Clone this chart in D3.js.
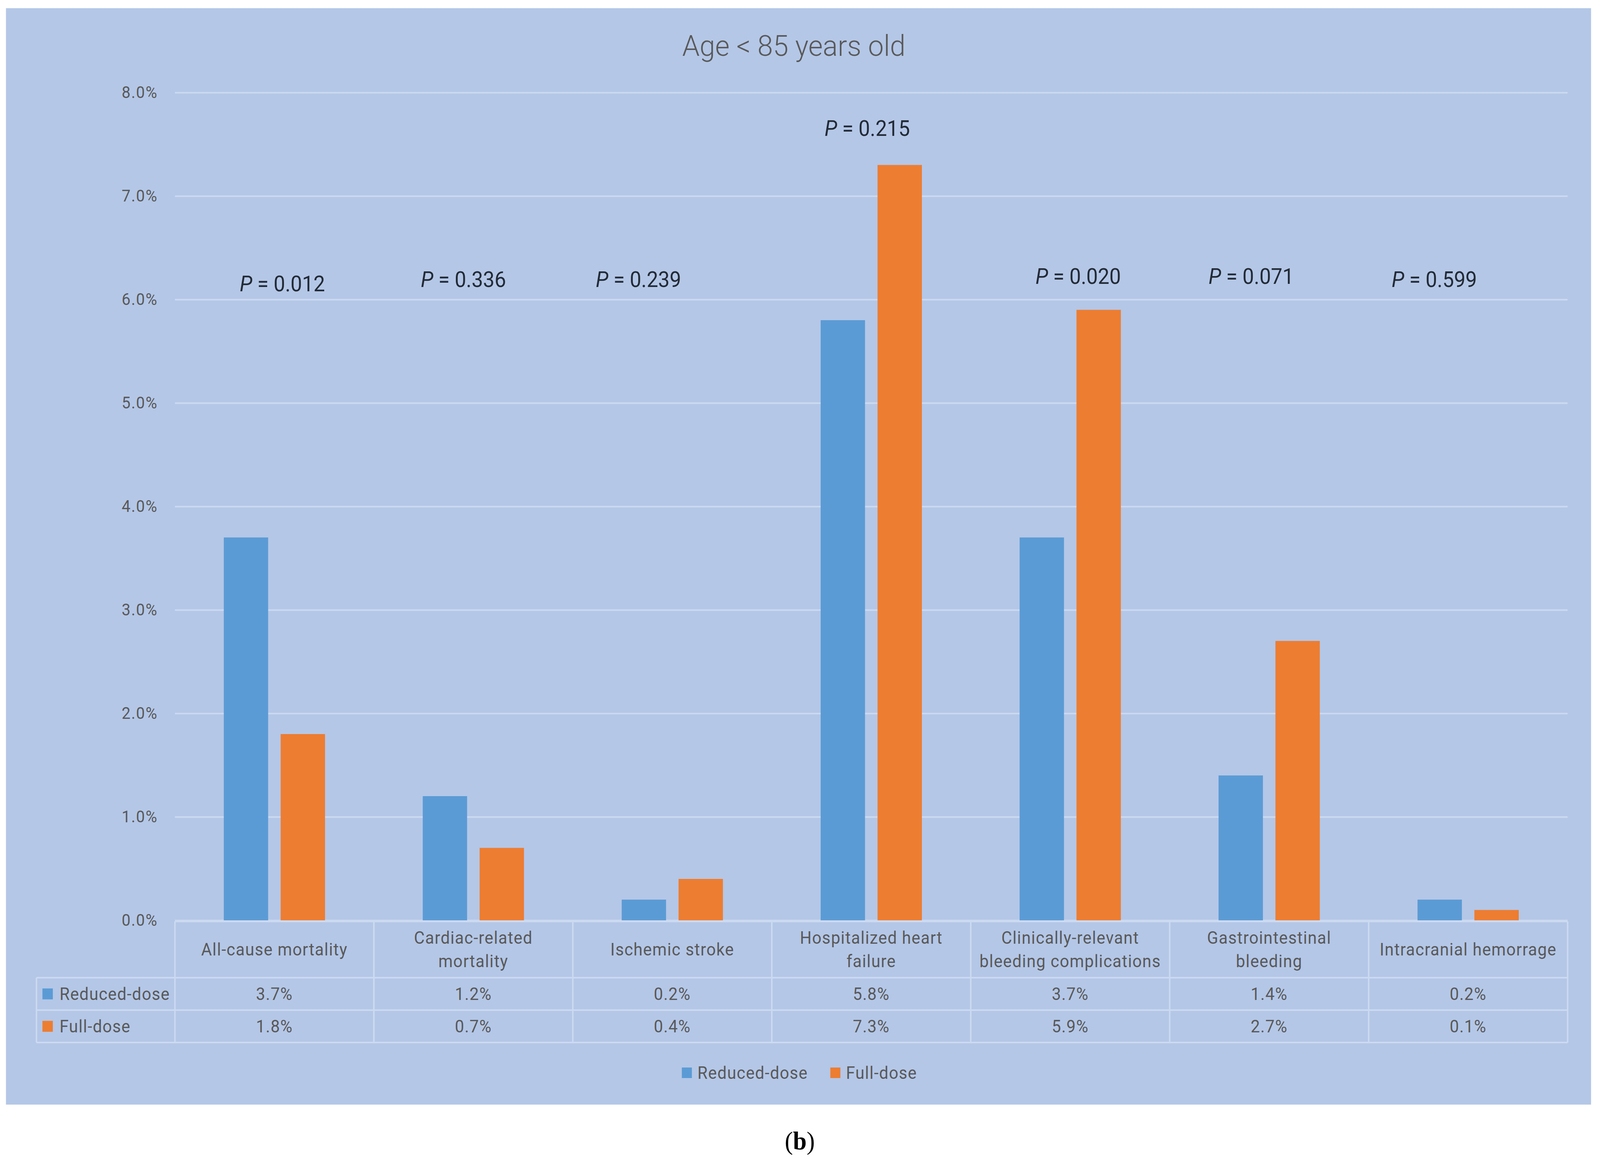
<!DOCTYPE html>
<html>
<head>
<meta charset="utf-8">
<script src="https://cdn.jsdelivr.net/npm/d3@7"></script>
<style>
  html, body { margin: 0; padding: 0; background: #fff; overflow: hidden; }
  #chart svg { display: block; width: 100vw; height: 100vh; }
  svg text { font-family: "Liberation Sans Narrow", "Roboto", sans-serif; }
</style>
</head>
<body>
<div id="chart"></div>
<script>
// data ------------------------------------------------------------
const categories = [
  'All-cause mortality',
  'Cardiac-related mortality',
  'Ischemic stroke',
  'Hospitalized heart failure',
  'Clinically-relevant bleeding complications',
  'Gastrointestinal bleeding',
  'Intracranial hemorrage'
];
// how the category names wrap in the table header
const categoryLines = [
  ['All-cause mortality'],
  ['Cardiac-related', 'mortality'],
  ['Ischemic stroke'],
  ['Hospitalized heart', 'failure'],
  ['Clinically-relevant', 'bleeding complications'],
  ['Gastrointestinal', 'bleeding'],
  ['Intracranial hemorrage']
];
const seriesNames = ['Reduced-dose', 'Full-dose'];
const reducedDose = [3.7, 1.2, 0.2, 5.8, 3.7, 1.4, 0.2];
const fullDose = [1.8, 0.7, 0.4, 7.3, 5.9, 2.7, 0.1];
const pValues = ['0.012', '0.336', '0.239', '0.215', '0.020', '0.071', '0.599'];
// where each P label sits: [shift from band centre as share of band, height in %]
const pAnchor = [[0.04, 6.08], [-0.05, 6.12], [-0.17, 6.12], [-0.02, 7.58], [0.04, 6.15], [-0.09, 6.15], [-0.17, 6.12]];
const yTicks = [0, 1, 2, 3, 4, 5, 6, 7, 8];
const title = 'Age < 85 years old';

// layout ----------------------------------------------------------
const width = 4299;
const height = 2976;
const colors = { 'Reduced-dose': '#5B9BD5', 'Full-dose': '#ED7D31' };
const panelBg = '#B4C7E7';
const lineColor = '#CCDAF1';
const textGray = '#595959';

const plot = { left: 470, right: 4212, top: 237, bottom: 2357 };
const table = { left: 98, header: 144, row: 83 };

const svg = d3.select('#chart')
  .append('svg')
  .attr('viewBox', `0 0 ${width} ${height}`)
  .attr('preserveAspectRatio', 'none');

svg.append('rect').attr('width', width).attr('height', height).attr('fill', '#fff');
svg.append('rect')
  .attr('x', 16).attr('y', 21)
  .attr('width', 4275 - 16).attr('height', 2829 - 21)
  .attr('fill', panelBg);

const xScale = d3.scaleBand().domain(categories).range([plot.left, plot.right]).padding(0);
const yScale = d3.scaleLinear().domain([0, 8]).range([plot.bottom, plot.top]);
const bw = xScale.bandwidth();
const xInner = d3.scaleBand().domain(seriesNames)
  .range([bw / 2 - 136, bw / 2 + 136])
  .paddingInner(0.22).paddingOuter(0);

// gridlines + y labels
const yAxis = d3.axisLeft(yScale)
  .tickValues(yTicks)
  .tickFormat(d => d.toFixed(1) + '%')
  .tickSize(-(plot.right - plot.left))
  .tickPadding(46);

const yG = svg.append('g')
  .attr('transform', `translate(${plot.left},0)`)
  .call(yAxis);
yG.select('.domain').remove();
yG.selectAll('.tick line').attr('stroke', lineColor).attr('stroke-width', 4);
yG.selectAll('.tick text')
  .attr('fill', textGray)
  .style('font-size', '42px')
  .style('letter-spacing', '2px');

// bars
const rows = categories.map((c, i) => ({ cat: c, values: [
  { key: 'Reduced-dose', value: reducedDose[i] },
  { key: 'Full-dose', value: fullDose[i] }
] }));

const groups = svg.append('g').selectAll('g')
  .data(rows)
  .join('g')
  .attr('transform', d => `translate(${xScale(d.cat)},0)`);

groups.selectAll('rect')
  .data(d => d.values)
  .join('rect')
  .attr('x', d => xInner(d.key))
  .attr('width', xInner.bandwidth())
  .attr('y', d => yScale(d.value))
  .attr('height', d => yScale(0) - yScale(d.value))
  .attr('fill', d => colors[d.key]);

// P value labels
const pText = svg.append('g').selectAll('text')
  .data(categories)
  .join('text')
  .attr('x', (d, i) => xScale(d) + bw / 2 + pAnchor[i][0] * bw)
  .attr('y', (d, i) => yScale(pAnchor[i][1]))
  .attr('text-anchor', 'middle')
  .attr('fill', '#222a35')
  .style('font-size', '55px');
pText.append('tspan').style('font-style', 'italic').text('P');
pText.append('tspan').text((d, i) => ' = ' + pValues[i]);

// title
svg.append('text')
  .attr('x', 2133).attr('y', 143)
  .attr('text-anchor', 'middle')
  .attr('fill', textGray)
  .style('font-size', '75px')
  .style('font-weight', 300)
  .text(title);

// data table ------------------------------------------------------
const tTop = yScale(0) + 3;
const tHead = tTop + table.header;
const tRow1 = tHead + table.row;
const tRow2 = tRow1 + table.row;
const tbl = svg.append('g').attr('stroke', lineColor).attr('stroke-width', 4);

tbl.append('line').attr('x1', plot.left).attr('x2', plot.right).attr('y1', tTop).attr('y2', tTop);
[tHead, tRow1, tRow2].forEach(y => {
  tbl.append('line').attr('x1', table.left).attr('x2', plot.right).attr('y1', y).attr('y2', y);
});
tbl.append('line').attr('x1', table.left).attr('x2', table.left).attr('y1', tHead).attr('y2', tRow2);
tbl.selectAll('.vline')
  .data(categories.concat(['end']))
  .join('line')
  .attr('x1', d => d === 'end' ? plot.right : xScale(d))
  .attr('x2', d => d === 'end' ? plot.right : xScale(d))
  .attr('y1', tTop).attr('y2', tRow2);

const cellFont = '44px';
const cellSpacing = '1.5px';

// header labels
const headG = svg.append('g').selectAll('text')
  .data(categories)
  .join('text')
  .attr('text-anchor', 'middle')
  .attr('fill', textGray)
  .style('font-size', cellFont)
  .style('letter-spacing', cellSpacing);

headG.each(function (d, i) {
  const lines = categoryLines[i];
  const cy = (tTop + tHead) / 2;
  const gap = 60;
  const start = cy - (lines.length - 1) * gap / 2;
  d3.select(this).selectAll('tspan')
    .data(lines)
    .join('tspan')
    .attr('x', xScale(d) + bw / 2)
    .attr('y', (l, j) => start + j * gap)
    .attr('dy', '0.35em')
    .text(l => l);
});

// value rows
const seriesRows = [
  { key: 'Reduced-dose', values: reducedDose, y: (tHead + tRow1) / 2 },
  { key: 'Full-dose', values: fullDose, y: (tRow1 + tRow2) / 2 }
];

seriesRows.forEach(r => {
  const g = svg.append('g');
  g.append('rect')
    .attr('x', 114).attr('y', r.y - 14)
    .attr('width', 28).attr('height', 28)
    .attr('fill', colors[r.key]);
  g.append('text')
    .attr('x', 160).attr('y', r.y).attr('dy', '0.35em')
    .attr('fill', textGray)
    .style('font-size', cellFont)
    .style('letter-spacing', cellSpacing)
    .text(r.key);
  g.selectAll('.val')
    .data(r.values)
    .join('text')
    .attr('x', (v, i) => xScale(categories[i]) + bw / 2)
    .attr('y', r.y).attr('dy', '0.35em')
    .attr('text-anchor', 'middle')
    .attr('fill', textGray)
    .style('font-size', cellFont)
    .style('letter-spacing', cellSpacing)
    .text(v => v.toFixed(1) + '%');
});

// bottom legend
const legend = svg.append('g');
const legendY = 2748;
const legendX = [1832, 2231];
seriesNames.forEach((s, i) => {
  legend.append('rect')
    .attr('x', legendX[i]).attr('y', legendY - 14)
    .attr('width', 27).attr('height', 27)
    .attr('fill', colors[s]);
  legend.append('text')
    .attr('x', legendX[i] + 42).attr('y', legendY).attr('dy', '0.35em')
    .attr('fill', textGray)
    .style('font-size', cellFont)
    .style('letter-spacing', cellSpacing)
    .text(s);
});

// caption
const cap = svg.append('text')
  .attr('x', 2149).attr('y', 2944)
  .attr('text-anchor', 'middle')
  .attr('fill', '#000')
  .style('font-family', '"Liberation Serif", serif')
  .style('font-size', '66px');
cap.append('tspan').text('(');
cap.append('tspan').style('font-weight', 'bold').text('b');
cap.append('tspan').text(')');
</script>
</body>
</html>
